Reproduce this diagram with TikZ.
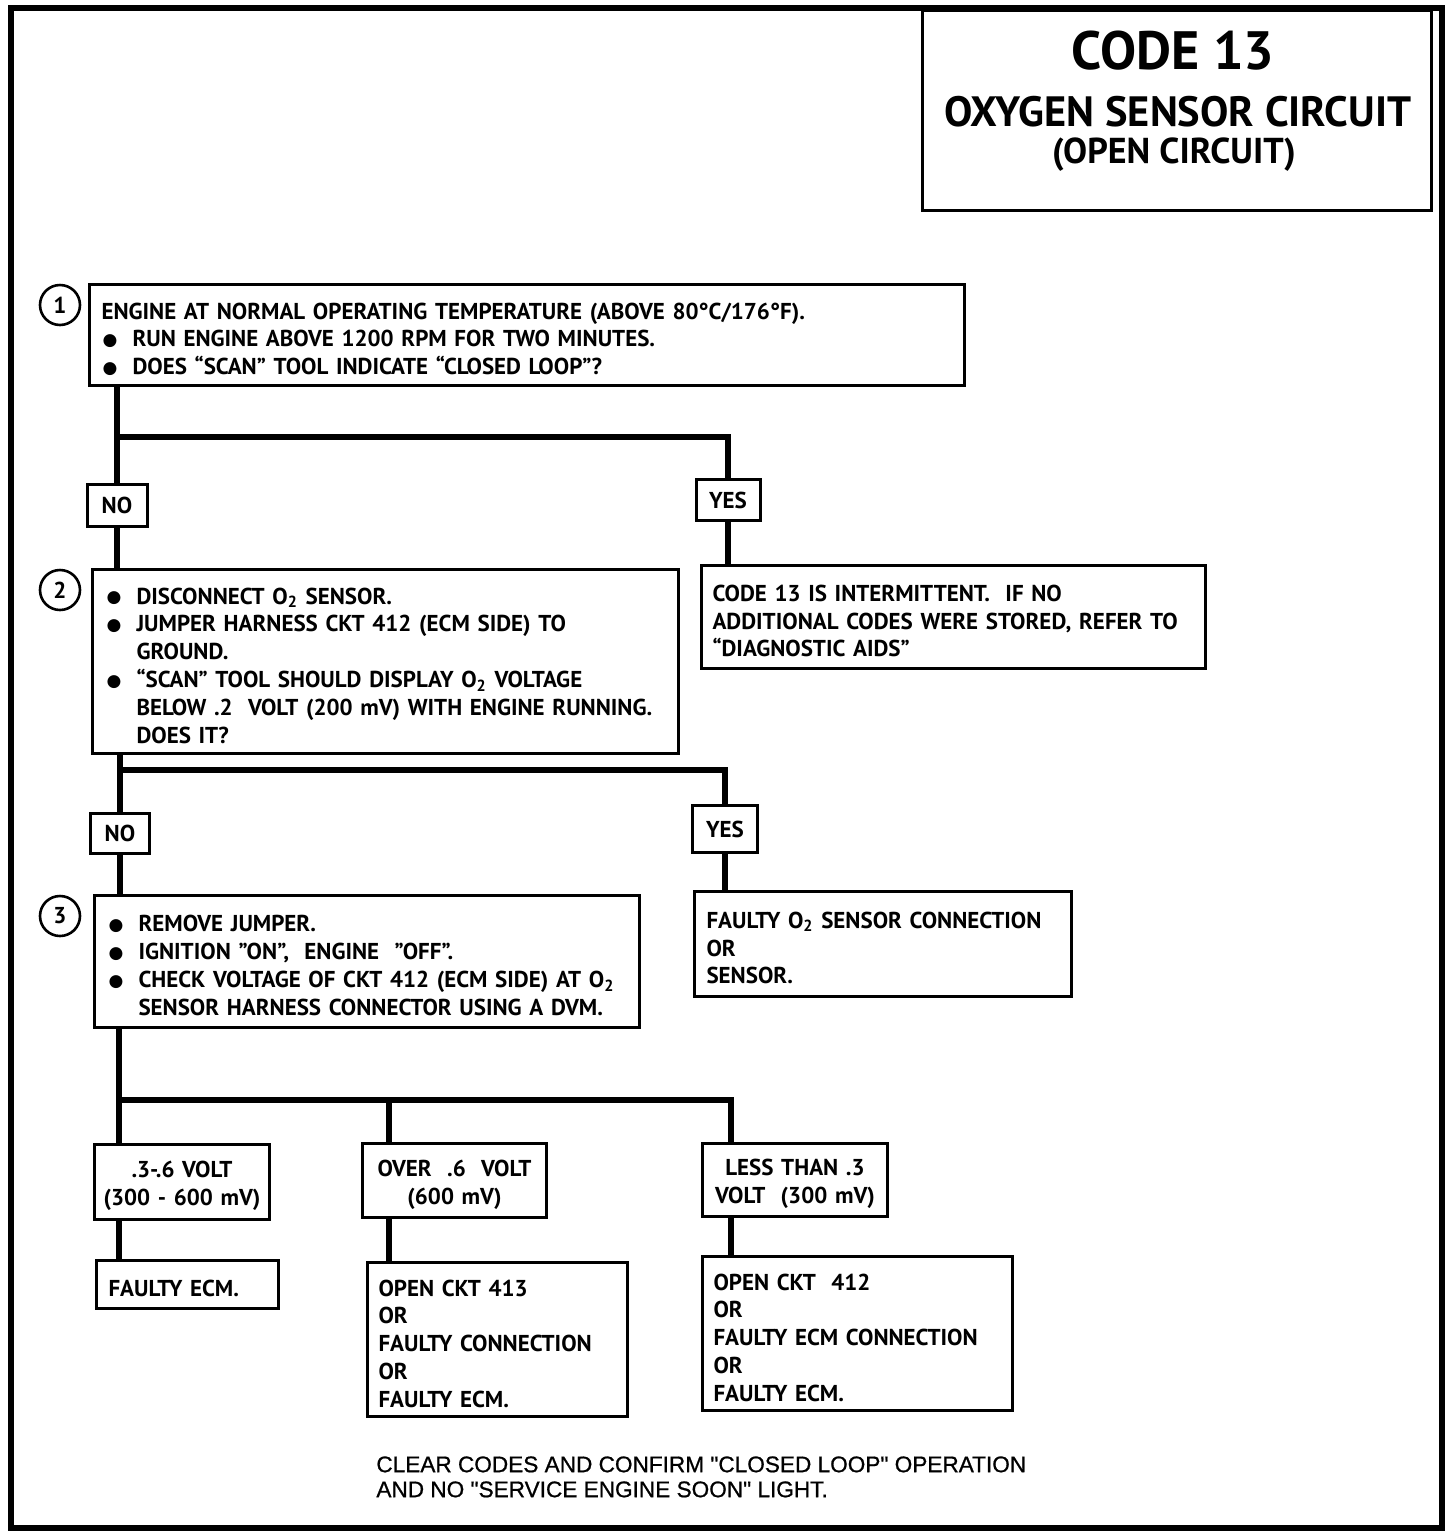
\documentclass[tikz,border=0pt]{standalone}
\usepackage{fontspec}
\setmainfont{PT Sans}
\newfontfamily\notefont{Liberation Sans}[FakeBold=0.8]
\newfontfamily\headfont{PT Sans}
\newfontfamily\symfont{DejaVu Sans}
\newcommand{\bul}{\makebox[15.5pt][l]{\hspace{0.5pt}\raisebox{0.6pt}{\symfont\fontsize{8.5}{8.5}\selectfont ●}}}
\newcommand{\ind}{\hspace*{15.5pt}}
\newcommand{\Ot}{O\textsubscript{2}}
\begin{document}
\begin{tikzpicture}[x=0.5pt,y=-0.5pt,
  box/.style={draw, line width=1.5pt, inner ysep=0pt, anchor=north west,
    font=\bfseries\fontsize{11.5}{13.9}\selectfont, align=left,
    execute at begin node={\rule{0pt}{12.3pt}}},
  cbox/.style={box, align=center},
  ans/.style={draw, line width=1.5pt, inner sep=0pt,
    font=\bfseries\fontsize{11.5}{13}\selectfont},
  num/.style={circle, draw, line width=1.3pt, minimum size=20pt, inner sep=0pt,
    font=\bfseries\fontsize{11.5}{13}\selectfont},
  conn/.style={line width=3.4pt}]
\useasboundingbox (0,0) rectangle (1456,1532);
% outer frame
\draw[line width=3pt] (11,8) rectangle (1442,1528);
% title
\draw[line width=1.5pt] (922,10) rectangle (1431,210);
\node[anchor=base, inner sep=0pt, font=\headfont\bfseries\fontsize{27}{30}\selectfont] (t1) at (1173,69) {CODE 13};
\node[anchor=base, inner sep=0pt, text depth=0pt, font=\headfont\bfseries\fontsize{21.2}{24}\selectfont] (t2) at (1178,126) {OXYGEN SENSOR CIRCUIT};
\node[anchor=base, inner sep=0pt, text height=12pt, font=\headfont\bfseries\fontsize{18}{21}\selectfont] (t3) at (1174,163) {(OPEN CIRCUIT)};

% step 1
\node[num] (n1) at (60,305) {1};
\node[box, text width=425.5pt, inner xsep=6pt, minimum height=50.5pt] (b1) at (88,283)
 {\mbox{ENGINE AT NORMAL OPERATING TEMPERATURE (ABOVE 80°C/176°F).}\\
  \mbox{\bul RUN ENGINE ABOVE 1200 RPM FOR TWO MINUTES.}\\
  \mbox{\bul DOES “SCAN” TOOL INDICATE “CLOSED LOOP”?}};
\node[ans, minimum width=30pt, minimum height=21pt] (no1) at (117,505) {NO};
\node[ans, minimum width=32pt, minimum height=20.5pt] (yes1) at (728,500) {YES};
\coordinate (j1) at (117,437);

% step 2
\node[num] (n2) at (60,590) {2};
\node[box, text width=280pt, inner xsep=6.5pt, minimum height=92pt] (b2) at (91,568)
 {\mbox{\bul DISCONNECT \Ot{} SENSOR.}\\
  \mbox{\bul JUMPER HARNESS CKT 412 (ECM SIDE) TO}\\
  \mbox{\ind GROUND.}\\
  \mbox{\bul “SCAN” TOOL SHOULD DISPLAY \Ot{} VOLTAGE}\\
  \mbox{\ind BELOW .2\ \ VOLT (200 mV) WITH ENGINE RUNNING.}\\
  \mbox{\ind DOES IT?}};
\node[box, text width=241pt, inner xsep=5.5pt, minimum height=51.5pt] (ri) at (700,564)
 {\mbox{CODE 13 IS INTERMITTENT.\ \ IF NO}\\
  \mbox{ADDITIONAL CODES WERE STORED, REFER TO}\\
  \mbox{“DIAGNOSTIC AIDS”}};
\node[ans, minimum width=29.5pt, minimum height=20pt] (no2) at (120,833) {NO};
\node[ans, minimum width=32.5pt, minimum height=23.5pt] (yes2) at (725,829) {YES};
\coordinate (j2) at (120,770);

% step 3
\node[num] (n3) at (60,916) {3};
\node[box, text width=259.5pt, inner xsep=6.5pt, minimum height=66pt] (b3) at (93,894)
 {\mbox{\bul REMOVE JUMPER.}\\
  \mbox{\bul IGNITION ”ON”,\ \ ENGINE\ \ ”OFF”.}\\
  \mbox{\bul CHECK VOLTAGE OF CKT 412 (ECM SIDE) AT \Ot}\\
  \mbox{\ind SENSOR HARNESS CONNECTOR USING A DVM.}};
\node[box, text width=176.5pt, inner xsep=6pt, minimum height=52.5pt] (ro) at (693,890)
 {\mbox{FAULTY \Ot{} SENSOR CONNECTION}\\
  \mbox{OR}\\
  \mbox{SENSOR.}};
\coordinate (j3) at (119,1100);

% voltage results
\node[cbox, text width=81.5pt, inner xsep=3pt, minimum height=37.5pt] (va) at (93,1143)
 {.3-.6 VOLT\\(300 - 600 mV)};
\node[cbox, text width=86pt, inner xsep=3pt, minimum height=37pt] (vb) at (361,1142)
 {OVER\ \ .6\ \ VOLT\\(600 mV)};
\node[cbox, text width=86.5pt, inner xsep=3pt, minimum height=36.5pt] (vc) at (701,1142)
 {LESS THAN .3\\VOLT\ \ (300 mV)};
\coordinate (xb) at (389,1100);
\coordinate (xc) at (731,1100);

\node[box, text width=79pt, inner xsep=6pt, minimum height=24pt] (fa) at (95,1259)
 {FAULTY ECM.};
\node[box, text width=119pt, inner xsep=5.5pt, minimum height=77pt] (fb) at (366,1261)
 {\mbox{OPEN CKT 413}\\ OR\\ \mbox{FAULTY CONNECTION}\\ OR\\ \mbox{FAULTY ECM.}};
\node[box, text width=144pt, inner xsep=5.5pt, minimum height=77pt] (fc) at (701,1255)
 {\mbox{OPEN CKT\ \ 412}\\ OR\\ \mbox{FAULTY ECM CONNECTION}\\ OR\\ \mbox{FAULTY ECM.}};

% note
\node[anchor=north west, inner sep=0pt, align=left,
  font=\notefont\fontsize{11.3}{12.5}\selectfont] (note) at (376,1456)
 {CLEAR CODES AND CONFIRM "CLOSED LOOP" OPERATION\\
  AND NO "SERVICE ENGINE SOON" LIGHT.};

% connectors
\draw[conn] (no1.north |- b1.south) -- (no1.north);
\draw[conn] (j1) -| (yes1.north);
\draw[conn] (no1.south) -- (no1.south |- b2.north);
\draw[conn] (yes1.south) -- (yes1.south |- ri.north);
\draw[conn] (no2.north |- b2.south) -- (no2.north);
\draw[conn] (j2) -| (yes2.north);
\draw[conn] (no2.south) -- (no2.south |- b3.north);
\draw[conn] (yes2.south) -- (yes2.south |- ro.north);
\draw[conn] (j3 |- b3.south) -- (j3 |- va.north);
\draw[conn] (j3) -- (xc) -- (xc |- vc.north);
\draw[conn] (xb) -- (xb |- vb.north);
\draw[conn] (j3 |- va.south) -- (j3 |- fa.north);
\draw[conn] (xb |- vb.south) -- (xb |- fb.north);
\draw[conn] (xc |- vc.south) -- (xc |- fc.north);
\end{tikzpicture}
\end{document}
